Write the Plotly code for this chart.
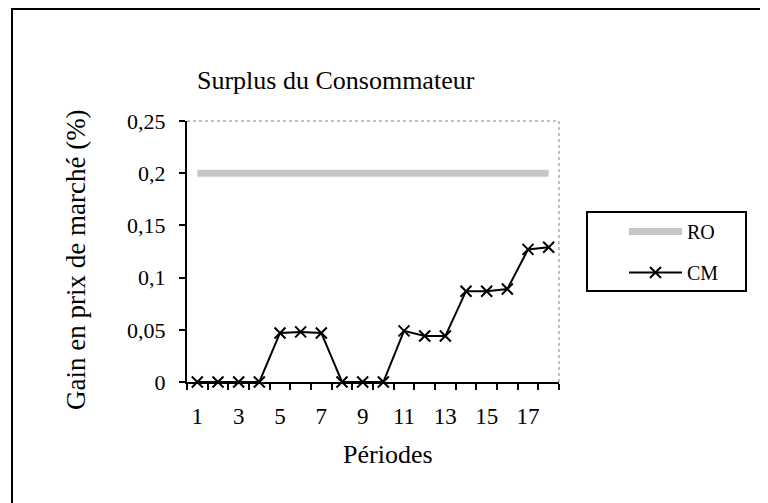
import plotly.graph_objects as go

periods = list(range(1, 19))
ro_values = [0.2] * 18
cm_values = [0, 0, 0, 0, 0.047, 0.048, 0.047, 0, 0, 0, 0.049, 0.044, 0.044,
             0.087, 0.087, 0.089, 0.127, 0.129]
x_tick_vals = [1, 3, 5, 7, 9, 11, 13, 15, 17]
x_tick_labels = ["1", "3", "5", "7", "9", "11", "13", "15", "17"]
x_boundaries = [p - 0.5 for p in periods] + [18.5]
y_tick_vals = [0, 0.05, 0.1, 0.15, 0.2, 0.25]

FONT = "Liberation Serif"
OFF = 8  # page body margin
W, H = 768 - OFF, 503 - OFF
# plot area in page (screen) pixels
L, R, T, B = 187, 559, 121, 382


def px(x):
    return (x - L) / (R - L)


def py(y):
    return (B - y) / (B - T)


fig = go.Figure()
fig.add_trace(go.Scatter(
    x=periods, y=ro_values, mode="lines", name="RO", legendgroup="ro",
    line=dict(color="#c6c6c6", width=7),
))
fig.add_trace(go.Scatter(
    x=periods, y=cm_values, mode="lines+markers", name="CM", legendgroup="cm",
    line=dict(color="black", width=2),
    marker=dict(symbol="x-thin", size=11, line=dict(color="black", width=2)),
    cliponaxis=False,
))

shapes = [
    # outer chart border (only top/left visible)
    dict(type="rect", xref="paper", yref="paper", x0=px(12), x1=px(800),
         y0=py(540), y1=py(9), line=dict(color="black", width=2)),
    # plot area top/right dotted border
    dict(type="line", xref="paper", yref="paper", x0=0, x1=1, y0=1, y1=1,
         line=dict(color="#808080", width=1, dash="dot")),
    dict(type="line", xref="paper", yref="paper", x0=1, x1=1, y0=0, y1=1,
         line=dict(color="#808080", width=1, dash="dot")),
    # legend box
    dict(type="rect", xref="paper", yref="paper", x0=px(587), x1=px(746),
         y0=py(291), y1=py(212), line=dict(color="black", width=2)),
]

annotations = [
    dict(text="Surplus du Consommateur", xref="paper", yref="paper",
         x=px(336), y=py(80), xanchor="center", yanchor="middle",
         showarrow=False, font=dict(family=FONT, size=26, color="black")),
    dict(text="Gain en prix de marché (%)", xref="paper", yref="paper",
         x=px(76), y=py(260), xanchor="center", yanchor="middle", textangle=-90,
         showarrow=False, font=dict(family=FONT, size=27, color="black")),
    dict(text="Périodes", xref="paper", yref="paper",
         x=px(388), y=py(454), xanchor="center", yanchor="middle",
         showarrow=False, font=dict(family=FONT, size=26, color="black")),
]

fig.update_layout(
    width=W, height=H,
    margin=dict(l=L - OFF, r=W - (R - OFF), t=T - OFF, b=H - (B - OFF),
                autoexpand=False),
    paper_bgcolor="white", plot_bgcolor="white",
    separators=", ",
    font=dict(family=FONT, size=22, color="black"),
    showlegend=True,
    legend=dict(x=px(624), y=py(212), xanchor="left", yanchor="top",
                bgcolor="rgba(0,0,0,0)", borderwidth=0,
                font=dict(family=FONT, size=20, color="black"),
                itemwidth=53, tracegroupgap=12),
    shapes=shapes,
    annotations=annotations,
    xaxis=dict(range=[0.5, 18.5], tickmode="array", tickvals=x_tick_vals,
               ticktext=x_tick_labels, ticks="", showgrid=False, zeroline=False,
               showline=True, linecolor="black", linewidth=2,
               ticklabelstandoff=12, tickfont=dict(size=23),
               minor=dict(tickmode="array", tickvals=x_boundaries, ticks="outside",
                          ticklen=6, tickwidth=1.5, tickcolor="black", showgrid=False)),
    yaxis=dict(range=[0, 0.25], tickmode="array", tickvals=y_tick_vals,
               ticks="outside", ticklen=6, tickwidth=1.5, tickcolor="black",
               showgrid=False, zeroline=False, showline=True, linecolor="black",
               linewidth=2, ticklabelstandoff=9),
)

fig.write_html("out.html")
